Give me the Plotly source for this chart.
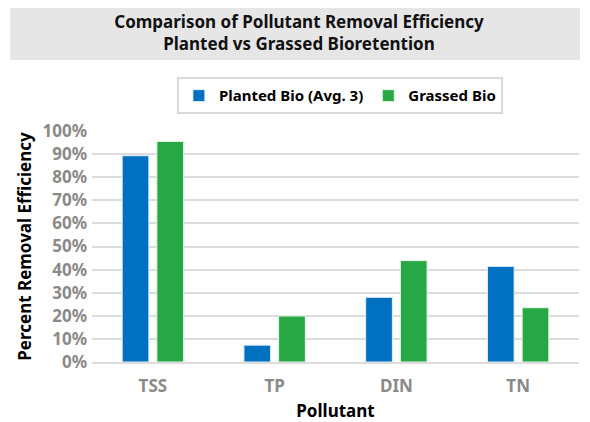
import plotly.graph_objects as go

pollutants = ["TSS", "TP", "DIN", "TN"]
planted = [0.893, 0.073, 0.280, 0.414]
grassed = [0.955, 0.199, 0.439, 0.235]
y_ticks = [i / 10 for i in range(11)]

FONT = "Noto Sans"

fig = go.Figure(
    data=[
        go.Bar(name="Planted Bio (Avg. 3)", x=pollutants, y=planted,
               marker=dict(color="#0070C0", line=dict(color="#e8f0f8", width=1))),
        go.Bar(name="Grassed Bio", x=pollutants, y=grassed,
               marker=dict(color="#28A745", line=dict(color="#e8f4ea", width=1))),
    ]
)

# the page body adds an 8px offset, so the figure is sized 582x414
fig.update_layout(
    width=582,
    height=414,
    paper_bgcolor="white",
    plot_bgcolor="white",
    margin=dict(l=84, r=11, t=123, b=60, autoexpand=False),
    barmode="group",
    bargap=0.43,
    bargroupgap=0.23,
    font=dict(family=FONT, color="#000000"),
    title=dict(
        text="<b>Comparison of Pollutant Removal Efficiency<br>Planted vs Grassed Bioretention</b>",
        x=0.5, xanchor="center", y=0.952, yanchor="middle",
        font=dict(family=FONT, size=17, color="#111111"),
    ),
    legend=dict(
        orientation="h",
        x=0.509, xanchor="center", y=1.152, yanchor="middle",
        bordercolor="#d9d9d9", borderwidth=2,
        font=dict(family=FONT, size=15, color="#000000", weight="bold"),
        itemwidth=30, traceorder="normal",
    ),
    shapes=[
        dict(type="rect", xref="paper", yref="paper",
             x0=-0.168, x1=1.002, y0=1.307, y1=1.54,
             fillcolor="#e6e6e7", line=dict(width=0), layer="below"),
    ],
)

fig.update_yaxes(
    range=[0, 1.0],
    automargin=False,
    tickvals=y_ticks,
    tickformat=".0%",
    gridcolor="#dcdcdc",
    gridwidth=2,
    zeroline=False,
    showline=False,
    tickfont=dict(family=FONT, size=17, color="#8a8a8a", weight="bold"),
    ticks="",
    ticklabelstandoff=4,
    title=dict(text="<b>Percent Removal Efficiency</b>",
               font=dict(family=FONT, size=17, color="#000000"), standoff=6),
)
fig.update_xaxes(
    automargin=False,
    showline=True,
    linecolor="#dcdcdc",
    linewidth=2,
    tickfont=dict(family=FONT, size=17, color="#8a8a8a", weight="bold"),
    ticks="",
    ticklabelstandoff=8,
    title=dict(text="<b>Pollutant</b>",
               font=dict(family=FONT, size=17, color="#000000"), standoff=12),
)

fig.write_html("out.html")
